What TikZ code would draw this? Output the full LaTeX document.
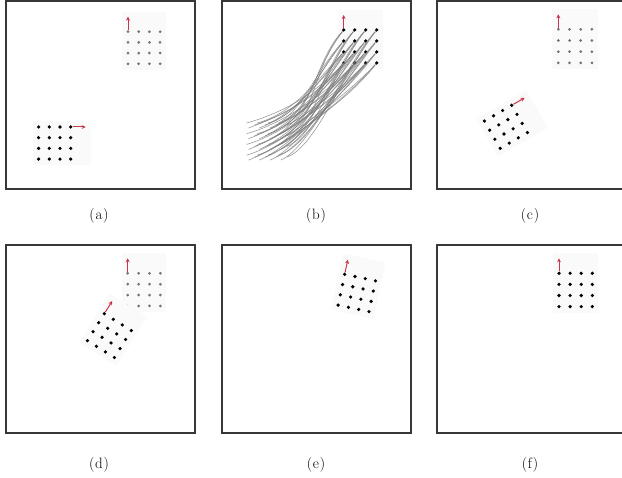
\documentclass[tikz,border=0pt]{standalone}
\usepackage{tikz}
\usetikzlibrary{arrows.meta}
\definecolor{framegray}{HTML}{383838}
\definecolor{arrowred}{HTML}{C8374F}
\definecolor{pathgray}{HTML}{7A7A7A}
\tikzstyle{panel} = [draw=framegray, line width=1.2pt]
\tikzstyle{srcdot} = [circle, fill=black, inner sep=0pt, minimum size=3.6pt]
\tikzstyle{tgtdot} = [circle, fill=black!55, inner sep=0pt, minimum size=3pt]
\tikzstyle{dirarrow} = [-{Stealth[length=4pt, width=4pt]}, line width=1pt, color=arrowred]
\tikzstyle{patch} = [fill=black!2]
\tikzstyle{traj} = [pathgray, line width=0.6pt, opacity=0.75]
\tikzstyle{caption} = [font=\fontsize{15}{17}\selectfont]
% 4x4 grid of markers: #1 name, #2/#3 anchor, #4 angle, #5 spacing, #6 dot style
\newcommand{\posegrid}[6]{%
  \begin{scope}[shift={(#2,#3)}, rotate=#4]
    \fill[patch] ({-3*#5-6},-6) rectangle (20,{3*#5+6});
    \foreach \i in {0,...,3}{
      \foreach \j in {0,...,3}{
        \node[#6] (#1-\i-\j) at ({-\i*#5},{\j*#5}) {};
      }
    }
    \coordinate (#1-tip) at (15,0);
    \draw[dirarrow] (#1-0-0) -- (#1-tip);
  \end{scope}}
% spaced caption letters
\newcommand{\capt}[1]{(\kern0.8pt#1\kern0.8pt)}

\begin{document}
\begin{tikzpicture}[x=1pt, y=-1pt]
    \useasboundingbox (0,0) rectangle (622,478);
    \clip (0,0) rectangle (622,478);

    % Panels
    \draw[panel] (6,1) rectangle (195,189);
    \draw[panel] (222,1) rectangle (411,189);
    \draw[panel] (437,1) rectangle (626,189);
    \draw[panel] (6,245) rectangle (195,433);
    \draw[panel] (222,245) rectangle (411,433);
    \draw[panel] (437,245) rectangle (626,433);

    % (a) start and goal
    \posegrid{a-t}{128}{31.7}{90}{10.7}{tgtdot}
    \posegrid{a-s}{70.7}{127}{0}{10.7}{srcdot}

    % (b) trajectories
    \posegrid{b-t}{343.7}{30}{90}{11}{srcdot}
    \foreach \i in {0,...,3}{
      \foreach \j in {0,...,3}{
        \coordinate (b-s-\i-\j) at ({286.7-\i*10.7},{125+\j*10.7});
      }
    }
    \foreach \i in {0,...,3}{
      \foreach \j in {0,...,3}{
        \foreach \dx/\dy/\ca/\cb in {0/0/30/35, -8/2/36/32, -6/-3/26/40}{
          \draw[traj] ([xshift=\dx pt, yshift=\dy pt]b-s-\i-\j)
            .. controls +(\ca,-10) and +(-30,\cb) .. (b-t-\i-\j);
        }
      }
    }

    % (c)
    \posegrid{c-t}{558.3}{29.3}{90}{11.2}{tgtdot}
    \posegrid{c-s}{511.7}{105.3}{30}{10.5}{srcdot}

    % (d)
    \posegrid{d-t}{127.7}{273.3}{90}{10.9}{tgtdot}
    \posegrid{d-s}{104.3}{313.7}{58}{10.6}{srcdot}

    % (e)
    \posegrid{e-s}{344.7}{274.3}{78}{10.5}{srcdot}

    % (f)
    \posegrid{f-s}{559}{273.3}{90}{11.1}{srcdot}

    % Captions
    \node[caption] (cap-a) at (99,216) {\capt{a}};
    \node[caption] (cap-b) at (316,216) {\capt{b}};
    \node[caption] (cap-c) at (530,216) {\capt{c}};
    \node[caption] (cap-d) at (99,465) {\capt{d}};
    \node[caption] (cap-e) at (316,465) {\capt{e}};
    \node[caption] (cap-f) at (530,465) {\capt{f}};
\end{tikzpicture}
\end{document}
